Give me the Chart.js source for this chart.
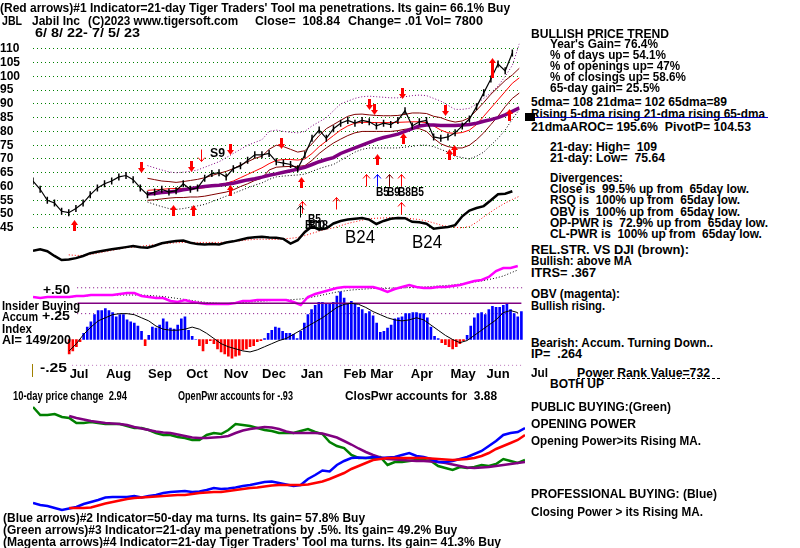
<!DOCTYPE html>
<html lang="en">
<head>
<meta charset="UTF-8">
<title>JBL Jabil Inc - TigerSoft chart</title>
<script src="https://cdn.jsdelivr.net/npm/chart.js"></script>
<style>
  body { margin: 0; background: #fff; }
  #wrap { position: relative; width: 800px; height: 548px; overflow: hidden; background: #fff; }
  .box { position: absolute; left: 0; width: 525px; }
  .t { position: absolute; white-space: pre; font-family: "Liberation Sans", Arial, sans-serif;
       font-weight: bold; font-size: 12px; line-height: 12px; color: #000; transform-origin: 0 0; }
  .big { font-weight: normal; font-size: 18px; line-height: 18px; }
  .bg { background: #fff; }
</style>
</head>
<body>
<div id="wrap">
  <div class="box" style="top:0;height:280px"><canvas id="priceChart" width="525" height="280"></canvas></div>
  <div class="box" style="top:255px;height:130px"><canvas id="accumChart" width="525" height="130"></canvas></div>
  <div class="box" style="top:390px;height:130px"><canvas id="powerChart" width="525" height="130"></canvas></div>
</div>

<script>
// ---- data (x = step index, one step = 4 trading days, 6/8/22 .. 7/5/23) ----
const priceTicks = [45, 50, 55, 60, 65, 70, 75, 80, 85, 90, 95, 100, 105, 110];
const monthLabels = ['Jul','Aug','Sep','Oct','Nov','Dec','Jan','Feb','Mar','Apr','May','Jun'];
const monthPos = [6.36, 11.82, 17.55, 22.67, 28.06, 33.31, 38.56, 44.5, 48.2, 53.76, 59.44, 64.27];

const closes = [62,59,55,54,51,50.5,52,54,57,59.5, 61,62,63.5,64,62.5,59.5,57,58,59,58,
  58.5,61,59,59.5,63,64.7,65,63.5,66.5,67.5, 69.5,71.5,71.5,72,69,68.5,68,66.5,71.5,77.5,
  80.5,77.5,81,83,84,83,84,83.5,82,83, 82.5,84,87.5,82,83.5,84,78,77.5,78,79.5,
  82,84.5,89,94,99,104.5,102,108.5];

// moving averages and bands start at step 16
const bandStart = 16;
const ma65 = [57.3,57.5,57.8,58,58.3,58.8,59.2,59.7,60,60.3,60.5,60.8,61.2,61.8,62.4,62.8,63.4,64.1,
  64.6,65.2,65.7,66.3,67,68,69,69.8,70.5,72,73,74,75,76,77,77.8,78.4,79,80,81,82,82.3,82.3,82.2,
  82.2,82.2,82.3,82.5,83,83.7,84.3,85,86,87.3,88.6];
const ma21 = [58.6,58.8,59,59.2,59.3,59.3,59.3,59.3,59.6,60.2,60.7,61.2,62,63.2,64.4,65.6,66.8,68.3,
  69.5,69.8,69.8,69.6,70,72,74.5,76.5,78.5,80.5,82,83,83.3,83.3,83.2,83.2,83.2,83.3,83.4,83.5,83.5,
  83.2,82,80.5,79.5,79.3,79.6,80.5,82.5,85.5,88.5,91.5,94.5,97.5,99.5];
const bandUpper = [63,62.5,62,61.8,61.5,61.8,62.2,62.6,63.2,64,64.8,65.5,66.5,67.8,69,70.2,71,73.5,
  75,74.5,73.5,72.5,73,75.5,78.5,81,82.5,84,85.5,86.2,86.3,86,85.8,85.7,85.7,85.8,86.2,86.7,86.7,
  86.5,85.5,85,84,83.4,83.8,85,87.7,90.5,93.5,96,98.5,100.5,103];
const bandLower = [55,55.2,55.5,55.8,56,56,56.2,56.2,56.5,57,57.5,58,58.8,60,61,62.2,63,66,67,67.2,
  67.3,67.3,67.6,69.5,72,74,75.8,77.2,78.5,79.5,80,80,80,80,80,80.3,80.8,81,81,80,77.5,75.5,74.5,
  74,74,75,77,79.5,82.5,85.5,89,92,94];
const outerUpper = [67.6,66.8,66,65.3,65,65.2,65.5,66,67,68,69,70.5,72,73.5,75,76,77,80,80.5,80,
  79.7,79.5,80,82,83.5,85,87.5,90,91,92,92.6,92.8,92.6,92.4,92.2,92.2,92.6,93,93.2,93,92,91,89.5,
  88,88,88.4,90,92,94,96.5,100,104,112];
const outerLower = [54.4,53.5,52.7,52,51.7,52,52.5,53,53.5,54.5,55.5,56.5,57.5,58.5,59.5,60.5,61.3,
  62.6,63.5,63.8,64,64.2,64.5,65.5,66.5,67.3,68,69.5,71,72.5,73.5,74,74,74,74,74,74.3,74.6,75,75,
  74.5,73.5,72.5,71,70.5,70,71,72.5,75,77.5,80.5,84.5,88];

// relative strength vs DJI (drawn in the price panel) and its MA from step 5
const relStr = [36.7,37.2,36.5,34.8,33.3,33.5,34.0,34.8,35.8,36.3, 36.8,37.2,37.6,38.0,38.4,38.0,37.8,38.5,39.4,39.9,
  40.2,40.4,39.6,39.1,39.0,39.1,39.0,39.7,40.1,40.7, 41.3,41.6,41.8,41.5,41.4,41.0,39.3,40.5,43.5,45.5,
  44.3,44.8,46.6,47.5,48.0,48.3,48.6,48.0,46.4,47.5, 48.3,48.6,48.5,47.2,47.0,46.5,44.7,45.0,45.3,46.0,
  49.2,51.3,52.2,52.9,55.0,57.2,57.4,58.3];
const maStart = 5;
const relStrMa = [35.2,35.0,35.0,35.3,35.8, 36.3,36.8,37.3,37.8,38.0,38.3,38.6,38.9,39.2,39.4,
  39.6,39.7,39.7,39.7,39.7,39.7,39.7,39.8,40.0,40.3, 40.6,40.8,40.9,40.8,40.8,41.0,41.2,41.5,42.2,43.0,
  43.8,44.5,45.0,45.8,46.6,47.2,47.8,48.3,48.5,48.6, 48.7,48.8,48.6,48.3,48.0,47.5,46.8,46.0,45.5,45.2,
  45.0,45.5,47.0,49.0,50.8,52.5,54.0,55.3,56.5];

// OBV (arbitrary units) and its MA
const obv = [83,82,83,83,83,83,84,84,85,85, 85,85,86,87,87,84,83,82,82,79, 78,80,78,77,76,76,76,76,77,79,
  79,80,80,80,80,80,78,75,83,86, 88,90,92,93,93,93,93,93,91,88, 91,93,95,93,92,92,93,93,94,95,
  97,99,100,103,109,112,112,114];
const obvMa = [83,83.5,84,84.5,85, 85,85,85,85,85,85,84.5,84,83.5,82.5, 81.5,80.5,79.5,78.5,77.5,77,76.5,76.5,77,77.5,
  78,78.5,79,79.5,80,80,80.5,81,82,83.5, 85,86.5,88,89,90,90.5,91,91.5,91.5,91.5,
  92,92,92.5,92.5,93,93.5,94,94.5,95,96, 97,98,99,100.5,102,104,107,110];

// Accumulation index, one bar per half step, from step 5
const aiStart = 5;
const aiHist = [-0.14,-0.11,-0.07,-0.02,0.06,0.12,0.17,0.24,0.28,0.28,
  0.30,0.28,0.26,0.22,0.24,0.24,0.19,0.17,0.16,0.13,
  0.08,-0.06,0.04,0.12,0.11,0.14,0.20,0.17,0.11,0.10,
  0.14,0.20,0.22,0.09,0.03,0.00,-0.06,-0.11,-0.04,-0.01,
  -0.04,-0.09,-0.12,-0.14,-0.16,-0.18,-0.16,-0.15,-0.10,-0.09,
  -0.07,-0.06,-0.02,-0.01,0.01,0.06,0.09,0.12,0.11,0.08,
  0.06,0.06,0.05,0.01,0.08,0.16,0.24,0.29,0.33,0.36,
  0.36,0.34,0.34,0.36,0.42,0.46,0.40,0.35,0.37,0.35,
  0.31,0.29,0.25,0.27,0.23,0.16,0.07,0.08,0.11,0.14,
  0.20,0.21,0.22,0.25,0.25,0.26,0.26,0.25,0.25,0.21,
  0.12,0.03,0.01,-0.03,-0.05,-0.07,-0.09,-0.07,-0.04,-0.01,
  0.04,0.13,0.21,0.25,0.26,0.24,0.29,0.32,0.31,0.31,
  0.33,0.34,0.29,0.25,0.22,0.27];
const aiMa = [-0.11,-0.04,0.05,0.12,0.18, 0.21,0.24,0.25,0.25,0.24,0.21,0.18,0.13,0.10,0.09,
  0.09,0.10,0.12,0.10,0.06,0.01,-0.04,-0.07,-0.09,-0.11, -0.12,-0.10,-0.07,-0.04,-0.01,0.01,0.05,0.09,0.13,0.17,
  0.21,0.26,0.31,0.34,0.35,0.34,0.31,0.27,0.24,0.21, 0.19,0.18,0.19,0.21,0.19,0.14,0.09,0.04,0.00,-0.03,
  -0.01,0.04,0.09,0.14,0.19,0.26,0.28,0.26];
const aiRefLevel = 0.35;
const aiGrid = [-0.25, 0.25, 0.5];

// Opening power (green) / closing power (blue), arbitrary units, with MAs from step 5
const openPwr = [123,115,115,116,113,112,107,107,108,107, 106,106,106,104,102,102,100,97,95,95,
  93,92,90,90,95,97,96,100,106,105, 104,102,100,99,97,97,97,99,101,98,
  96,88,84,82,75,72,72,72,73,65, 68,68,69,70,70,69,64,62,60,63, 62,63,65,64,66,71,69,67,70];
const openPwrMa = [114,112,110.5,109,108, 107,106.5,106,105,103,101.5,100,98.5,97.5,97,
  95.5,94,92.5,92,92,92.5,93,94,97,99.5, 101,102,103,102.5,101,98.5,97,97,97,97,
  96.5,94.5,92.5,89,85.5,81.5,78,75,72.5,71, 70.5,70,69.5,69,69,68.5,68,67,65.5,64,
  62.5,62,62.5,63,64,65,66,67,68];
const closePwr = [27,25,24,22,20,21.5,23,26,28,30, 32.5,33,33,33,34,32.5,34,35,37,38,
  38.5,39,38,38.5,40,42,41,41.5,42.5,44, 45,46.5,48,48.5,47,45.5,44,45,51,55,
  59.5,58.5,65,69,72,72.5,72,73,72,72.5, 73,75,77,74,73,71,68,68,69,71, 73,76,79,84,89,95,97,98,102];
const closePwrMa = [22,22,22,22.5,24.5, 26.5,28,29.5,31,32,32.5,33,33.5,34,34.5,
  35,35,36,37,37.5,38,38,39,40,41, 42,42.5,43.5,44.5,45,45,45,45,45.5,47,
  48.5,51,54,57,61,64,67,70,71,72, 72,72,72,72,72,71.5,71,70.5,70,70.5,
  71,72,74,77,81,84,87,90,95];

// signal arrows: [step, price, length]
const thickUp = [[5.67,48],[19.6,53.4],[22.4,53.2],[27.6,60.7],[37.4,63.5],[48.1,71.9],[51.7,79.6],
  [58.1,73.6],[58.9,75.2],[64.1,106.5,20],[66.5,88.3,12]];
const thickDown = [[15.1,64.8],[22.1,65.3],[27.5,71.4],[34.6,73.8],[46.9,87.7],[47.7,86],[51.6,91.6],[57.6,85.7]];
const thinUp = [[46.6,64.4,'#ff0000'],[48.1,64.4,'#0000ff'],[49.7,64.4,'#800000'],[51.4,64.4,'#ff0000'],
  [37.6,54.9,'#ff0000'],[42.3,56.1,'#ff0000'],[51.4,54.5,'#ff0000'],[37.3,53.3,'#000000']];
const thinDown = [[23.5,69.3,'#ff0000']];

// ---- helpers ----
const pts = (arr, start = 0, step = 1) => arr.map((v, i) => ({ x: start + i * step, y: v }));
const line = (data, color, width, extra) => Object.assign({
  type: 'line', data, borderColor: color, borderWidth: width, pointRadius: 0, tension: 0, fill: false
}, extra || {});
const baseOpts = () => ({
  responsive: false, animation: false, events: [], devicePixelRatio: 1,
  layout: { padding: 0 },
  plugins: { legend: { display: false }, tooltip: { enabled: false } }
});
const boldFont = { family: 'Liberation Sans', size: 12, weight: 'bold' };

const arrowPlugin = {
  id: 'arrows',
  afterDatasetsDraw(chart) {
    const { ctx, scales: { x, y } } = chart;
    ctx.save();
    const thick = (a, up) => {
      const px = Math.round(x.getPixelForValue(a[0])) + 0.5, py = Math.round(y.getPixelForValue(a[1]));
      const len = a[2] || 11, d = up ? 1 : -1;
      ctx.fillStyle = '#ff0000';
      ctx.beginPath();
      ctx.moveTo(px, py); ctx.lineTo(px - 3.5, py + d * 5); ctx.lineTo(px + 3.5, py + d * 5);
      ctx.closePath(); ctx.fill();
      ctx.fillRect(px - 1.5, up ? py + 4 : py - len, 3, len - 4);
    };
    const thin = (a, up) => {
      const px = Math.round(x.getPixelForValue(a[0])) + 0.5, py = Math.round(y.getPixelForValue(a[1])) + 0.5;
      const d = up ? 1 : -1;
      ctx.strokeStyle = a[2]; ctx.lineWidth = 1;
      ctx.beginPath();
      ctx.moveTo(px, py); ctx.lineTo(px, py + d * 12);
      ctx.moveTo(px - 3.5, py + d * 4); ctx.lineTo(px, py); ctx.lineTo(px + 3.5, py + d * 4);
      ctx.stroke();
    };
    thickUp.forEach(a => thick(a, true));
    thickDown.forEach(a => thick(a, false));
    thinUp.forEach(a => thin(a, true));
    thinDown.forEach(a => thin(a, false));
    ctx.restore();
  }
};

// ---- price panel ----
const pxPerUnit = 3.0415;
const priceMax = 110 + 39.3 / pxPerUnit;
new Chart(document.getElementById('priceChart'), {
  type: 'line',
  data: { datasets: [
    line(pts(closes), '#000000', 1.2, { order: 0, pointStyle: 'line', pointRadius: 3.5, pointRotation: 90,
      pointBorderColor: '#000', pointBorderWidth: 1.5 }),
    line(pts(ma65, bandStart), '#800080', 3.5, { order: 1 }),
    line(pts(ma21, bandStart), '#ff0000', 1, { order: 2 }),
    line(pts(bandUpper, bandStart), '#800000', 1, { order: 3 }),
    line(pts(bandLower, bandStart), '#800000', 1, { order: 3 }),
    line(pts(outerUpper, bandStart), '#800080', 1, { order: 4, borderDash: [1, 2] }),
    line(pts(outerLower, bandStart), '#000000', 1, { order: 4, borderDash: [1, 2] }),
    line(pts(relStr), '#000000', 2.5, { order: 5 }),
    line(pts(relStrMa, maStart), '#ff0000', 1, { order: 6, borderDash: [1, 2] })
  ]},
  options: Object.assign(baseOpts(), {
    scales: {
      x: { type: 'linear', min: 0, max: 68, display: false },
      y: { type: 'linear', min: priceMax - 280 / pxPerUnit, max: priceMax, position: 'left',
        afterFit(s) { s.width = 33; },
        afterBuildTicks(s) { s.ticks = priceTicks.map(v => ({ value: v })); },
        ticks: { font: boldFont, color: '#000', padding: 6, crossAlign: 'far' },
        grid: { color: '#008000', drawTicks: false, lineWidth: 1 },
        border: { display: false, dash: [1, 3] } }
    }
  }),
  plugins: [arrowPlugin]
});

// ---- OBV / accumulation panel ----
const aiPx = 103.5, aiArea = 110.4;
const guide = (lvl) => line([{ x: lvl < 0 ? 5.4 : 6.1, y: lvl }, { x: 67.8, y: lvl }], '#800080', 1,
  { order: 5, borderDash: [1, 3] });
new Chart(document.getElementById('accumChart'), {
  type: 'bar',
  data: { datasets: [
    line(pts(aiMa, maStart), '#000000', 1, { order: 0, yAxisID: 'y' }),
    line([{ x: monthPos[0] - 0.2, y: aiRefLevel }, { x: 67.5, y: aiRefLevel }], '#800080', 1.5, { order: 1 }),
    { type: 'bar', data: pts(aiHist, aiStart, 0.5), order: 2, barThickness: 2,
      backgroundColor: aiHist.map(v => v >= 0 ? '#0000ff' : '#ff0000') },
    line(pts(obv), '#ff00ff', 2.5, { order: 3, yAxisID: 'yObv' }),
    line(pts(obvMa, maStart), '#000000', 1, { order: 4, yAxisID: 'yObv', borderDash: [1, 2] }),
    ...aiGrid.map(guide)
  ]},
  options: Object.assign(baseOpts(), {
    scales: {
      x: { type: 'linear', min: 0, max: 68, position: 'bottom', offset: false,
        afterFit(s) { s.height = 130 - aiArea; },
        afterBuildTicks(s) { s.ticks = monthPos.map(v => ({ value: v })); },
        ticks: { font: Object.assign({}, boldFont, { size: 13 }), color: '#000', padding: 1, maxRotation: 0,
          autoSkip: false, callback: (v, i) => monthLabels[i] },
        grid: { display: false, drawTicks: false }, border: { display: false } },
      y: { type: 'linear', min: -0.25, max: -0.25 + aiArea / aiPx, position: 'left',
        afterFit(s) { s.width = 33; },
        ticks: { display: false },
        grid: { display: false }, border: { display: false } },
      yObv: { type: 'linear', min: 380 - 365.4, max: 125, display: false }
    }
  })
});

// ---- opening / closing power panel ----
new Chart(document.getElementById('powerChart'), {
  type: 'line',
  data: { datasets: [
    line(pts(closePwrMa, maStart), '#ff0000', 2.5, { order: 0 }),
    line(pts(closePwr), '#0000ff', 2.5, { order: 1 }),
    line(pts(openPwrMa, maStart), '#800080', 2.5, { order: 2 }),
    line(pts(openPwr), '#008000', 2.5, { order: 3 })
  ]},
  options: Object.assign(baseOpts(), {
    layout: { padding: { left: 33 } },
    scales: {
      x: { type: 'linear', min: 0, max: 68, display: false },
      y: { type: 'linear', min: 10, max: 140, display: false }
    }
  })
});

// ---- text ----
// [text, x, glyph top, target width, class]
const texts = [
  ["(Red arrows)#1 Indicator=21-day Tiger Traders' Tool ma penetrations. Its gain= 66.1% Buy", 0, 3, 510],
  ['JBL', 2, 16, 20], ['Jabil Inc', 32, 16, 48], ['(C)2023 www.tigersoft.com', 88, 16, 150],
  ['Close=  108.84', 255, 16, 85], ['Change= .01', 348, 16, 74], ['Vol= 7800', 425, 16, 58],
  ['6/ 8/ 22- 7/ 5/ 23', 35, 28, 105],
  ['BULLISH PRICE TREND', 531, 29, 138],
  ["Year's Gain= 76.4%", 550, 39, 108],
  ['% of days up= 54.1%', 550, 50, 116],
  ['% of openings up= 47%', 550, 61, 130],
  ['% of closings up= 58.6%', 550, 72, 136],
  ['65-day gain= 25.5%', 550, 83, 110],
  ['5dma= 108 21dma= 102 65dma=89', 531, 97, 196],
  ['Rising 5-dma rising 21-dma rising 65-dma', 531, 109, 234],
  ['21dmaAROC= 195.6%  PivotP= 104.53', 531, 122, 220],
  ['21-day: High=  109', 550, 142, 107],
  ['21-day: Low=  75.64', 550, 153, 115],
  ['Divergences:', 550, 173, 73],
  ['Close is  99.5% up from  65day low.', 550, 184, 199],
  ['RSQ is  100% up from  65day low.', 550, 195, 190],
  ['OBV is  100% up from  65day low.', 550, 207, 190],
  ['OP-PWR is  72.9% up from  65day low.', 550, 218, 218],
  ['CL-PWR is  100% up from  65day low.', 550, 229, 212],
  ['REL.STR. VS DJI (brown):', 531, 245, 158],
  ['Bullish: above MA', 531, 256, 101],
  ['ITRS= .367', 531, 268, 65],
  ['OBV (magenta):', 531, 289, 89],
  ['Bullish rising.', 531, 301, 74],
  ['Bearish: Accum. Turning Down..', 531, 338, 182],
  ['IP=  .264', 531, 349, 51],
  ['Jul', 531, 368, 17],
  ['Power Rank Value=732', 577, 368, 133],
  ['BOTH UP', 550, 379, 54],
  ['Insider Buying', 2, 301, 78], ['Accum', 2, 312, 36], ['Index', 2, 324, 30], ['AI= 149/200', 2, 335, 69],
  ['+.50', 43, 285, 27], ['+.25', 42, 311, 28], ['-.25', 40, 363, 27],
  ['10-day price change  2.94', 13, 391, 114], ['OpenPwr accounts for -.93', 178, 391, 115],
  ['ClosPwr accounts for  3.88', 345, 391, 152],
  ['PUBLIC BUYING:(Green)', 531, 402, 140],
  ['OPENING POWER', 531, 419, 105],
  ['Opening Power>its Rising MA.', 531, 436, 170],
  ['PROFESSIONAL BUYING: (Blue)', 531, 489, 186],
  ['Closing Power > its Rising MA.', 531, 507, 172],
  ['(Blue arrows)#2 Indicator=50-day ma turns. Its gain= 57.8% Buy', 3, 513, 362],
  ['(Green arrows)#3 Indicator=21-day ma penetrations by .5%. Its gain= 49.2% Buy', 3, 525, 454],
  ["(Magenta arrows)#4 Indicator=21-day Tiger Traders' Tool ma turns. Its gain= 41.3% Buy", 3, 537, 498],
  ['S9', 210, 148, 15],
  ['B5', 376, 187, 13], ['B9', 387, 187, 13], ['B8', 398, 187, 13], ['B5', 411, 187, 13],
  ['B5', 308, 214, 13], ['B10', 305, 220, 20], ['B18', 308, 220, 20],
  ['B24', 345, 230, 30, 'big'], ['B24', 412, 235, 30, 'big']
];
const wrap = document.getElementById('wrap');
texts.forEach(([txt, x, top, w, cls]) => {
  const el = document.createElement('div');
  el.className = 't' + (cls ? ' ' + cls : '');
  el.textContent = txt;
  el.style.left = x + 'px';
  el.style.top = (top - (cls === 'big' ? 2 : 1.5)) + 'px';
  wrap.appendChild(el);
  const cur = el.getBoundingClientRect().width;
  if (w && cur) el.style.transform = 'scaleX(' + (w / cur).toFixed(3) + ')';
});

// small decorations beside the text column
const deco = (css) => { const d = document.createElement('div'); d.style.cssText = 'position:absolute;' + css; wrap.appendChild(d); };
deco('left:531px;top:117px;width:237px;height:1px;background:#0000c0');
deco('left:525px;top:113px;width:10px;height:8px;background:#000');
deco('left:577px;top:378px;width:143px;height:0;border-top:1px dashed #000');
deco('left:32px;top:364px;width:1px;height:13px;background:#a08000');
</script>
</body>
</html>
